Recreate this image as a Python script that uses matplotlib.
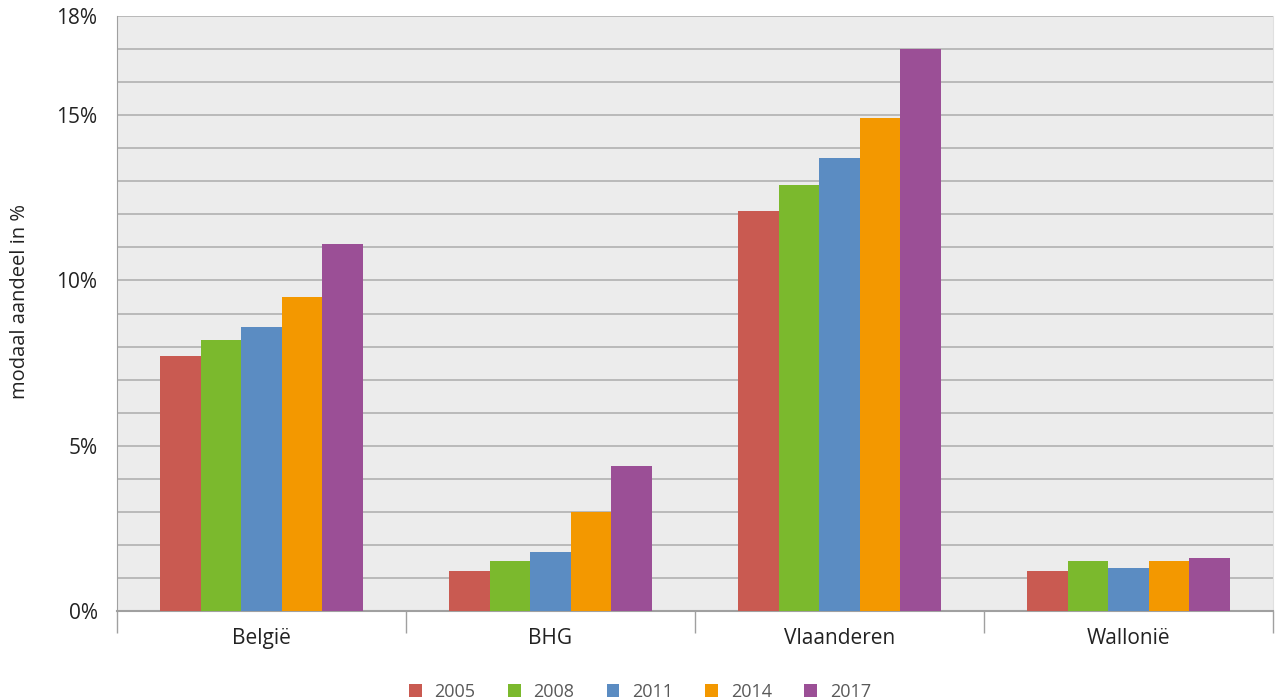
import matplotlib
matplotlib.use("Agg")
import matplotlib.pyplot as plt
import numpy as np
from matplotlib.ticker import FixedLocator, FuncFormatter

plt.rcParams['font.family'] = ['Open Sans', 'DejaVu Sans']

regions = ['België', 'BHG', 'Vlaanderen', 'Wallonië']
years = ['2005', '2008', '2011', '2014', '2017']
share_2005 = [7.7, 1.2, 12.1, 1.2]
share_2008 = [8.2, 1.5, 12.9, 1.5]
share_2011 = [8.6, 1.8, 13.7, 1.3]
share_2014 = [9.5, 3.0, 14.9, 1.5]
share_2017 = [11.1, 4.4, 17.0, 1.6]
colors = ['#C95A51', '#7BB92D', '#5B8CC2', '#F39800', '#9B4F96']

series = [share_2005, share_2008, share_2011, share_2014, share_2017]

fig = plt.figure(figsize=(12.75, 7), dpi=100)
ax = fig.add_axes([117 / 1275, 1 - 611 / 700, (1273 - 117) / 1275, (611 - 16) / 700])
ax.set_facecolor('#ECECEC')

x = np.arange(len(regions))
w = 0.14
for i, vals in enumerate(series):
    ax.bar(x + (i - 2) * w, vals, width=w, color=colors[i], label=years[i], zorder=3)

ax.set_xlim(-0.5, len(regions) - 0.5)
ax.set_ylim(0, 18)

# y grid every percent, labels only on a few
ax.yaxis.set_major_locator(FixedLocator([0, 5, 10, 15, 18]))
ax.yaxis.set_minor_locator(FixedLocator(range(0, 19)))
ax.yaxis.set_major_formatter(FuncFormatter(lambda v, p: f'{v:.0f}%'))
ax.grid(axis='y', which='both', color='#B0B0B0', linewidth=1.2, zorder=1)
ax.tick_params(axis='y', which='both', length=0, pad=14, labelsize=15, labelcolor='#222222')

# category separators as x ticks, names centred in between
ax.xaxis.set_major_locator(FixedLocator(np.arange(-0.5, len(regions), 1.0)))
ax.xaxis.set_major_formatter(FuncFormatter(lambda v, p: ''))
ax.xaxis.set_minor_locator(FixedLocator(x))
ax.set_xticklabels(regions, minor=True)
ax.tick_params(axis='x', which='major', length=16, width=1, color='#A0A0A0')
ax.tick_params(axis='x', which='minor', length=0, pad=12, labelsize=15, labelcolor='#222222')

ax.spines['top'].set_visible(False)
ax.spines['right'].set_color('#E0E0E0')
ax.spines['left'].set_color('#A0A0A0')
ax.spines['bottom'].set_color('#A0A0A0')
ax.spines['bottom'].set_linewidth(1.5)

ax.set_ylabel('modaal aandeel in %', fontsize=14.5, color='#222222')
ax.yaxis.set_label_coords(-0.0755, 0.52)

leg = fig.legend(*ax.get_legend_handles_labels(), loc='center',
                 bbox_to_anchor=(640 / 1275, 8 / 700), ncol=5, frameon=False,
                 fontsize=13, handlelength=0.7, handleheight=0.7, handletextpad=0.7,
                 columnspacing=1.8, borderpad=0)
for t in leg.get_texts():
    t.set_color('#595959')

fig.savefig('out.png', dpi=100)
